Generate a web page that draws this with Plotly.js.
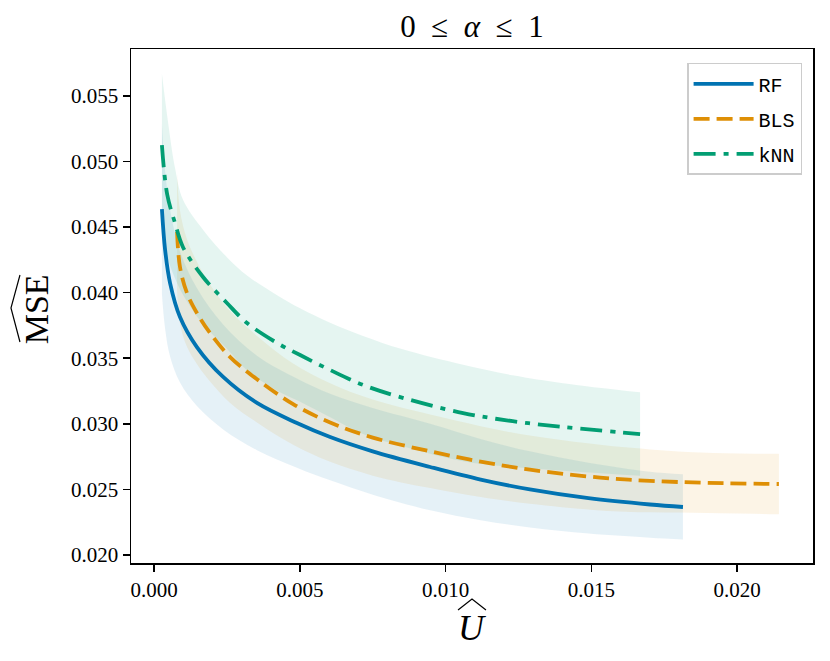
<!DOCTYPE html>
<html>
<head>
<meta charset="utf-8">
<script src="https://cdn.plot.ly/plotly-3.0.1.min.js"></script>
<style>
  html, body { margin: 0; padding: 0; background: #fff; }
  #myDiv { width: 830px; height: 661px; }
</style>
</head>
<body>
<div id="myDiv"></div>
<script>
/* values */
var rfX    = [0.00027, 0.00038, 0.00055, 0.00089, 0.00147, 0.00237, 0.00353, 0.00490, 0.00604, 0.00750, 0.00947, 0.01120, 0.01289, 0.01490, 0.01701, 0.01814];
var rfMean = [0.04637, 0.04325, 0.04073, 0.03814, 0.03585, 0.03357, 0.03159, 0.03006, 0.02899, 0.02790, 0.02671, 0.02575, 0.02500, 0.02433, 0.02385, 0.02366];
var rfLow  = [0.03987, 0.03725, 0.03513, 0.03314, 0.03135, 0.02957, 0.02799, 0.02666, 0.02569, 0.02460, 0.02341, 0.02265, 0.02210, 0.02163, 0.02132, 0.02118];
var rfHigh = [0.05287, 0.04925, 0.04633, 0.04314, 0.04035, 0.03757, 0.03519, 0.03346, 0.03229, 0.03120, 0.03001, 0.02885, 0.02790, 0.02703, 0.02635, 0.02616];

var blsX    = [0.00079, 0.00089, 0.00113, 0.00147, 0.00192, 0.00261, 0.00353, 0.00477, 0.00604, 0.00750, 0.00947, 0.01120, 0.01289, 0.01530, 0.01701, 0.01900, 0.02143];
var blsMean = [0.04462, 0.04195, 0.03997, 0.03845, 0.03692, 0.03509, 0.03340, 0.03150, 0.03010, 0.02895, 0.02790, 0.02712, 0.02650, 0.02590, 0.02565, 0.02550, 0.02541];
var blsLow  = [0.04012, 0.03765, 0.03587, 0.03455, 0.03322, 0.03159, 0.03010, 0.02840, 0.02710, 0.02605, 0.02510, 0.02442, 0.02390, 0.02340, 0.02325, 0.02320, 0.02311];
var blsHigh = [0.04912, 0.04625, 0.04407, 0.04235, 0.04062, 0.03859, 0.03670, 0.03460, 0.03310, 0.03185, 0.03070, 0.02982, 0.02910, 0.02840, 0.02805, 0.02780, 0.02771];

var knnX    = [0.00027, 0.00045, 0.00072, 0.00099, 0.00168, 0.00250, 0.00319, 0.00422, 0.00501, 0.00604, 0.00717, 0.00850, 0.01060, 0.01230, 0.01403, 0.01667];
var knnMean = [0.05125, 0.04750, 0.04530, 0.04348, 0.04119, 0.03921, 0.03768, 0.03616, 0.03524, 0.03410, 0.03296, 0.03200, 0.03082, 0.03020, 0.02976, 0.02922];
var knnLow  = [0.04580, 0.04280, 0.04110, 0.03986, 0.03758, 0.03572, 0.03406, 0.03252, 0.03168, 0.03050, 0.02922, 0.02830, 0.02714, 0.02670, 0.02642, 0.02604];
var knnHigh = [0.05670, 0.05350, 0.04950, 0.04710, 0.04480, 0.04270, 0.04130, 0.03980, 0.03880, 0.03770, 0.03670, 0.03570, 0.03450, 0.03370, 0.03310, 0.03240];

var names  = ["RF", "BLS", "kNN"];
var colors = ["#0173B2", "#DE8F05", "#029E73"];
var fills  = ["rgba(1,115,178,0.10)", "rgba(222,143,5,0.10)", "rgba(2,158,115,0.10)"];
var dashes = ["solid", "16px,7px", "22px,8px,5px,8px"];

var yTicks = [0.020, 0.025, 0.030, 0.035, 0.040, 0.045, 0.050, 0.055];
var xTicks = [0.000, 0.005, 0.010, 0.015, 0.020];

/**************************************************************/
function bandTraces(xs, lo, hi, fillcolor) {
  var low = { x: xs, y: lo, mode: "lines", type: "scatter",
              line: { width: 0, shape: "spline", smoothing: 1 },
              hoverinfo: "skip", showlegend: false };
  var high = { x: xs, y: hi, mode: "lines", type: "scatter",
               line: { width: 0, shape: "spline", smoothing: 1 },
               fill: "tonexty", fillcolor: fillcolor,
               hoverinfo: "skip", showlegend: false };
  return [low, high];
}

function lineTrace(xs, ys, i) {
  return { x: xs, y: ys, name: names[i], legendgroup: names[i],
           mode: "lines", type: "scatter",
           line: { color: colors[i], width: 3.8, dash: dashes[i],
                   shape: "spline", smoothing: 1 } };
}

var xs = [rfX, blsX, knnX];
var means = [rfMean, blsMean, knnMean];
var lows = [rfLow, blsLow, knnLow];
var highs = [rfHigh, blsHigh, knnHigh];

var data = [];
var i;
for (i = 0; i < 3; i++) {
  data = data.concat(bandTraces(xs[i], lows[i], highs[i], fills[i]));
}
for (i = 0; i < 3; i++) {
  data.push(lineTrace(xs[i], means[i], i));
}

var serif = "Liberation Serif, DejaVu Serif, serif";
var mono = "Courier New, Liberation Mono, Nimbus Mono PS, monospace";
var sp = "\u00a0\u00a0";

var layout = {
  width: 830,
  height: 661,
  margin: { l: 131, r: 17, t: 49, b: 98 },
  paper_bgcolor: "#ffffff",
  plot_bgcolor: "#ffffff",
  title: {
    text: "0" + sp + "\u2264" + sp + "<i>\u03b1</i>" + sp + "\u2264" + sp + "1",
    font: { family: serif, size: 31, color: "#000" },
    x: 0.5, xref: "paper", xanchor: "center",
    y: 0.96, yref: "container", yanchor: "middle"
  },
  xaxis: {
    range: [-0.00079, 0.0226],
    tickvals: xTicks,
    tickformat: ".3f",
    ticks: "outside", ticklen: 7, tickwidth: 1.5, tickcolor: "#000",
    showline: true, linecolor: "#000", linewidth: 1.5, mirror: true,
    showgrid: false, zeroline: false,
    tickfont: { family: serif, size: 21, color: "#000" }
  },
  yaxis: {
    range: [0.01939, 0.05857],
    tickvals: yTicks,
    tickformat: ".3f",
    ticks: "outside", ticklen: 7, tickwidth: 1.5, tickcolor: "#000",
    showline: true, linecolor: "#000", linewidth: 1.5, mirror: true,
    showgrid: false, zeroline: false,
    tickfont: { family: serif, size: 21, color: "#000" }
  },
  showlegend: true,
  legend: {
    x: 0.984, y: 0.973, xanchor: "right", yanchor: "top",
    bgcolor: "rgba(255,255,255,0.9)",
    bordercolor: "#cccccc", borderwidth: 1.5,
    tracegroupgap: 6,
    itemwidth: 60,
    font: { family: mono, size: 20, color: "#000" }
  },
  annotations: [
    { text: "MSE", xref: "paper", yref: "paper", x: -0.139, y: 0.494,
      textangle: -90, showarrow: false, xanchor: "center", yanchor: "middle",
      font: { family: serif, size: 34, color: "#000" } },
    { text: "<i>U</i>", xref: "paper", yref: "paper", x: 0.5, y: -0.127,
      showarrow: false, xanchor: "center", yanchor: "middle",
      font: { family: serif, size: 36, color: "#000" } }
  ],
  shapes: [
    { type: "path", xref: "paper", yref: "paper",
      path: "M -0.1628,0.5603 L -0.1760,0.4961 L -0.1628,0.4300",
      line: { color: "#000", width: 1.2 } },
    { type: "path", xref: "paper", yref: "paper",
      path: "M 0.4795,-0.0914 L 0.5,-0.0700 L 0.5205,-0.0914",
      line: { color: "#000", width: 1.2 } }
  ]
};

Plotly.newPlot("myDiv", data, layout, { displayModeBar: false, staticPlot: true });
</script>
</body>
</html>
